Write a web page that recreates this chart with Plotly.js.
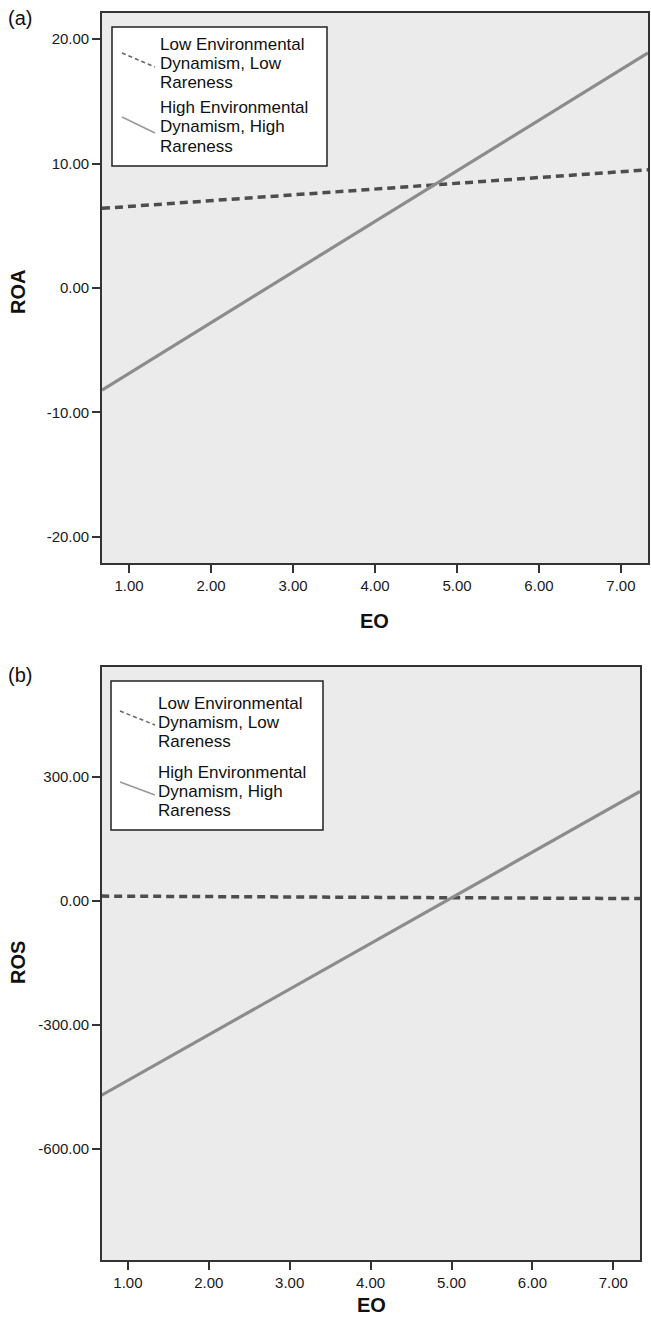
<!DOCTYPE html>
<html>
<head>
<meta charset="utf-8">
<script src="https://cdn.plot.ly/plotly-3.0.1.min.js"></script>
<style>html,body{margin:0;padding:0;background:#fff;}#chart{width:651px;height:1319px;}</style>
</head>
<body>
<div id="chart"></div>
<script>
// ---- data ----
const eo = [0.67, 7.33];
const roaLowLow = [6.4, 9.5];
const roaHighHigh = [-8.2, 18.9];
const rosLowLow = [12, 6];
const rosHighHigh = [-470, 265];
const roaTicks = [-20, -10, 0, 10, 20];
const rosTicks = [-600, -300, 0, 300];
const eoTicks = [1, 2, 3, 4, 5, 6, 7];
const seriesNames = ["Low Environmental|Dynamism, Low|Rareness", "High Environmental|Dynamism, High|Rareness"];

// ---- layout helpers (pixel -> paper) ----
const W = 651, H = 1319;
const px = x => x / W;
const py = y => 1 - y / H;
const FONT = "Liberation Sans, Arial, sans-serif";
const fmt = v => v.toFixed(2); // SPSS style, hyphen minus

const dashStyle = {color: '#4d4d4d', width: 3.5, dash: '8px,5px'};
const solidStyle = {color: '#8c8c8c', width: 3.2};

const traces = [
  {x: eo, y: roaLowLow, mode: 'lines', line: dashStyle, xaxis: 'x', yaxis: 'y', showlegend: false},
  {x: eo, y: roaHighHigh, mode: 'lines', line: solidStyle, xaxis: 'x', yaxis: 'y', showlegend: false},
  {x: eo, y: rosLowLow, mode: 'lines', line: dashStyle, xaxis: 'x2', yaxis: 'y2', showlegend: false},
  {x: eo, y: rosHighHigh, mode: 'lines', line: solidStyle, xaxis: 'x2', yaxis: 'y2', showlegend: false}
];

const axisCommon = {
  showgrid: false, zeroline: false, showline: true, linecolor: '#333', linewidth: 1.8, mirror: true,
  ticks: 'outside', ticklen: 8, tickwidth: 2, tickcolor: '#333',
  tickfont: {family: FONT, size: 15, color: '#1a1a1a'}, tickmode: 'array', fixedrange: true
};

const layout = {
  width: W, height: H,
  margin: {l: 0, r: 0, t: 0, b: 0},
  paper_bgcolor: '#ffffff', plot_bgcolor: '#ebebeb',
  showlegend: false,
  xaxis: Object.assign({}, axisCommon, {domain: [px(102), px(648)], range: [0.67, 7.33], tickvals: eoTicks, ticktext: eoTicks.map(fmt), anchor: 'y'}),
  yaxis: Object.assign({}, axisCommon, {domain: [py(563), py(13)], range: [-22.1, 22.1], tickvals: roaTicks, ticktext: roaTicks.map(fmt), anchor: 'x'}),
  xaxis2: Object.assign({}, axisCommon, {domain: [px(102), px(640)], range: [0.68, 7.33], tickvals: eoTicks, ticktext: eoTicks.map(fmt), anchor: 'y2'}),
  yaxis2: Object.assign({}, axisCommon, {domain: [py(1260), py(667)], range: [-868, 566], tickvals: rosTicks, ticktext: rosTicks.map(fmt), anchor: 'x2'}),
  shapes: [],
  annotations: []
};

function ann(text, x, y, opts) {
  layout.annotations.push(Object.assign({
    text: text, x: px(x), y: py(y), xref: 'paper', yref: 'paper', showarrow: false,
    xanchor: 'center', yanchor: 'middle', font: {family: FONT, size: 17, color: '#111'}
  }, opts || {}));
}

// panel labels
ann('(a)', 20, 18, {font: {family: FONT, size: 20, color: '#111'}});
ann('(b)', 20, 675, {font: {family: FONT, size: 20, color: '#111'}});
// axis titles
ann('<b>EO</b>', 375, 621, {font: {family: FONT, size: 20, color: '#111'}});
ann('<b>EO</b>', 371, 1305, {font: {family: FONT, size: 20, color: '#111'}});
ann('<b>ROA</b>', 18, 292, {textangle: -90, font: {family: FONT, size: 20, color: '#111'}});
ann('<b>ROS</b>', 18, 963, {textangle: -90, font: {family: FONT, size: 20, color: '#111'}});

// legends
function legend(box, dashSeg, solidSeg, textX, rows) {
  layout.shapes.push({type: 'rect', xref: 'paper', yref: 'paper', x0: px(box[0]), y0: py(box[1]), x1: px(box[2]), y1: py(box[3]),
    fillcolor: '#ffffff', line: {color: '#222', width: 1.5}});
  layout.shapes.push({type: 'line', xref: 'paper', yref: 'paper', x0: px(dashSeg[0]), y0: py(dashSeg[1]), x1: px(dashSeg[2]), y1: py(dashSeg[3]),
    line: {color: '#666', width: 1.5, dash: '4px,3px'}});
  layout.shapes.push({type: 'line', xref: 'paper', yref: 'paper', x0: px(solidSeg[0]), y0: py(solidSeg[1]), x1: px(solidSeg[2]), y1: py(solidSeg[3]),
    line: {color: '#999', width: 1.5}});
  const lines = seriesNames[0].split('|').concat(seriesNames[1].split('|'));
  lines.forEach((t, i) => ann(t, textX, rows[i], {xanchor: 'left'}));
}
legend([112, 27, 327, 166], [122, 53, 155, 67], [122, 117, 155, 133], 158, [45, 63, 82, 108, 127, 146]);
legend([111, 681, 323, 830], [120, 711, 155, 725], [120, 782, 155, 795], 156, [703, 722, 742, 772, 791, 810]);

Plotly.newPlot('chart', traces, layout, {staticPlot: true, displayModeBar: false});
</script>
</body>
</html>
